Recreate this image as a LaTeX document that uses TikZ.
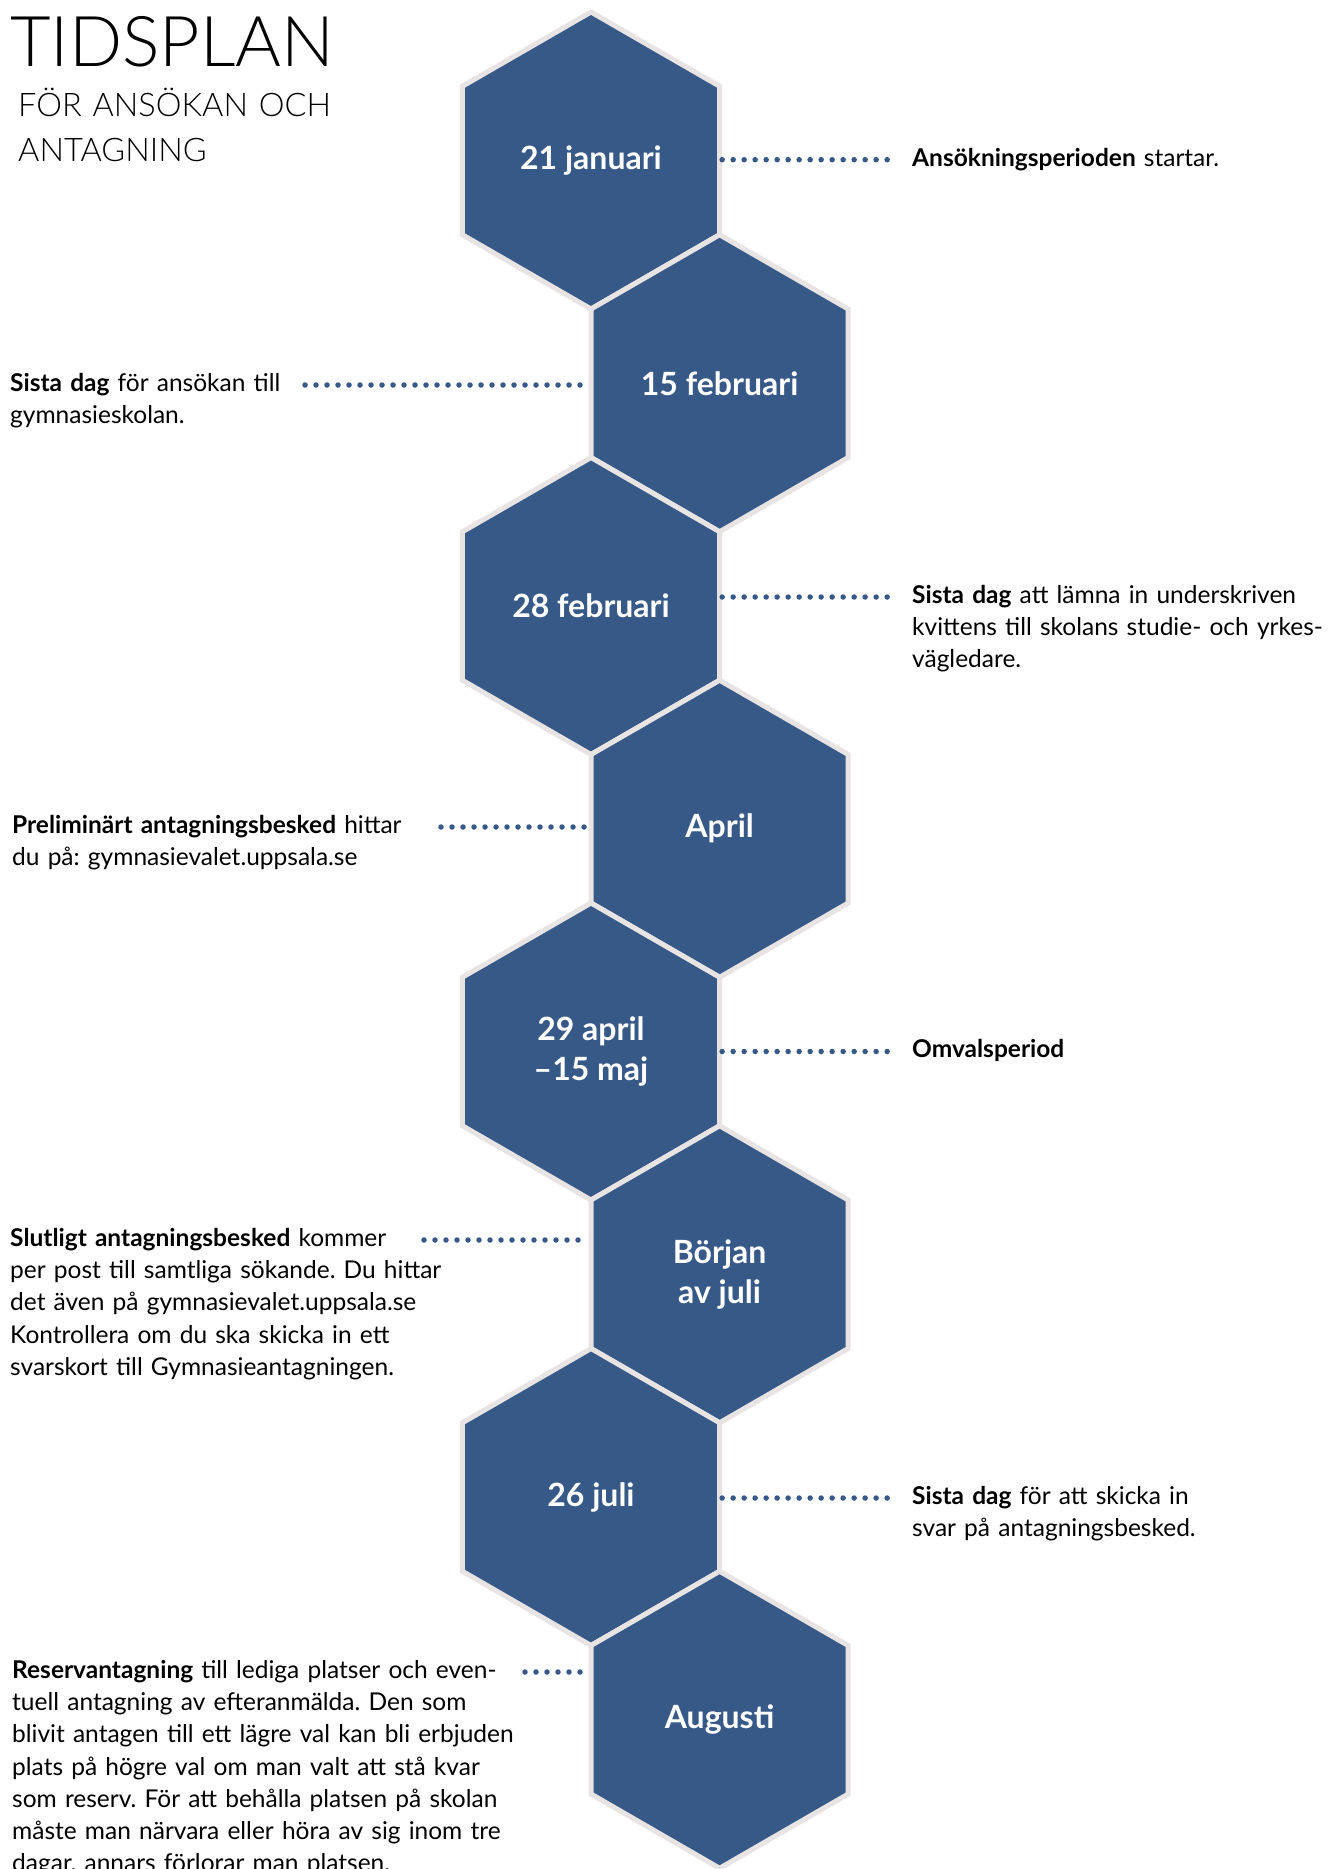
\documentclass[tikz,border=0pt]{standalone}
\usepackage{fontspec}
\setmainfont{Lato}
\newfontfamily\lightfont{Lato Light}
\usetikzlibrary{shapes.geometric}
\definecolor{hexblue}{HTML}{375988}
\definecolor{hexrim}{HTML}{E8E4E4}
\frenchspacing
\begin{document}
\begin{tikzpicture}
[x=1pt,y=-1pt,
hexcell/.style={regular polygon,regular polygon sides=6,shape border rotate=30,minimum size=297pt,inner sep=0pt,
	fill=hexblue,draw=hexrim,line width=5pt,text=white,align=center,font=\fontsize{32}{40}\selectfont\bfseries},
dotline/.style={hexblue,line width=5.5pt,line cap=round,dash pattern=on 0pt off 11pt},
note/.style={anchor=base west,align=left,inner sep=0pt,text width=600pt,font=\fontsize{24.5}{32.2}\selectfont}]
\useasboundingbox[fill=white] (0,0) rectangle (1339,1869);
\node[anchor=base west,inner sep=0pt,font=\lightfont\fontsize{70}{70}\selectfont] (title) at (10,66) {TIDSPLAN};
\node[anchor=base west,inner sep=0pt,align=left,text width=400pt,font=\lightfont\fontsize{32.5}{45}\selectfont] (subtitle) at (18,116) {FÖR ANSÖKAN OCH\\ANTAGNING};
\node[hexcell] (jan) at (591,160.5) {21 januari};
\node[hexcell] (feb15) at (719.6,383.25) {15 februari};
\node[hexcell] (feb28) at (591,606) {28 februari};
\node[hexcell] (apr) at (719.6,828.75) {April};
\node[hexcell] (omval) at (591,1051.5) {29 april\\–15 maj};
\node[hexcell] (jul) at (719.6,1274.25) {Början\\av juli};
\node[hexcell] (jul26) at (591,1497) {26 juli};
\node[hexcell] (aug) at (719.6,1719.75) {Augusti};
\node[note] (start) at (912,166) {\textbf{Ansökningsperioden} startar.};
\node[note] (sista1) at (10,391) {\textbf{Sista dag} för ansökan till\\gymnasieskolan.};
\node[note] (sista2) at (912,603.5) {\textbf{Sista dag} att lämna in underskriven\\kvittens till skolans studie- och yrkes-\\vägledare.};
\node[note] (prelim) at (12,833.5) {\textbf{Preliminärt antagningsbesked} hittar\\du på: gymnasievalet.uppsala.se};
\node[note] (omvals) at (912,1057.5) {\textbf{Omvalsperiod}};
\node[note] (slutl) at (10,1246.5) {\textbf{Slutligt antagningsbesked} kommer\\per post till samtliga sökande. Du hittar\\det även på gymnasievalet.uppsala.se\\Kontrollera om du ska skicka in ett\\svarskort till Gymnasieantagningen.};
\node[note] (sista3) at (912,1504.5) {\textbf{Sista dag} för att skicka in\\svar på antagningsbesked.};
\node[note] (reserv) at (12,1678.5) {\textbf{Reservantagning} till lediga platser och even-\\tuell antagning av efteranmälda. Den som\\blivit antagen till ett lägre val kan bli erbjuden\\plats på högre val om man valt att stå kvar\\som reserv. För att behålla platsen på skolan\\måste man närvara eller höra av sig inom tre\\dagar, annars förlorar man platsen.};
\coordinate (r1) at (888,159.7);
\coordinate (l2) at (305,385);
\coordinate (r3) at (888,597);
\coordinate (l4) at (441,827);
\coordinate (r5) at (888,1051.5);
\coordinate (l6) at (424,1240);
\coordinate (r7) at (888,1498);
\coordinate (l8) at (525,1672);
\draw[dotline] (jan.east |- r1) -- (r1);
\draw[dotline] (l2) -- (l2 -| feb15.west);
\draw[dotline] (feb28.east |- r3) -- (r3);
\draw[dotline] (l4) -- (l4 -| apr.west);
\draw[dotline] (omval.east |- r5) -- (r5);
\draw[dotline] (l6) -- (l6 -| jul.west);
\draw[dotline] (jul26.east |- r7) -- (r7);
\draw[dotline] (l8) -- (l8 -| aug.west);
\end{tikzpicture}
\end{document}
